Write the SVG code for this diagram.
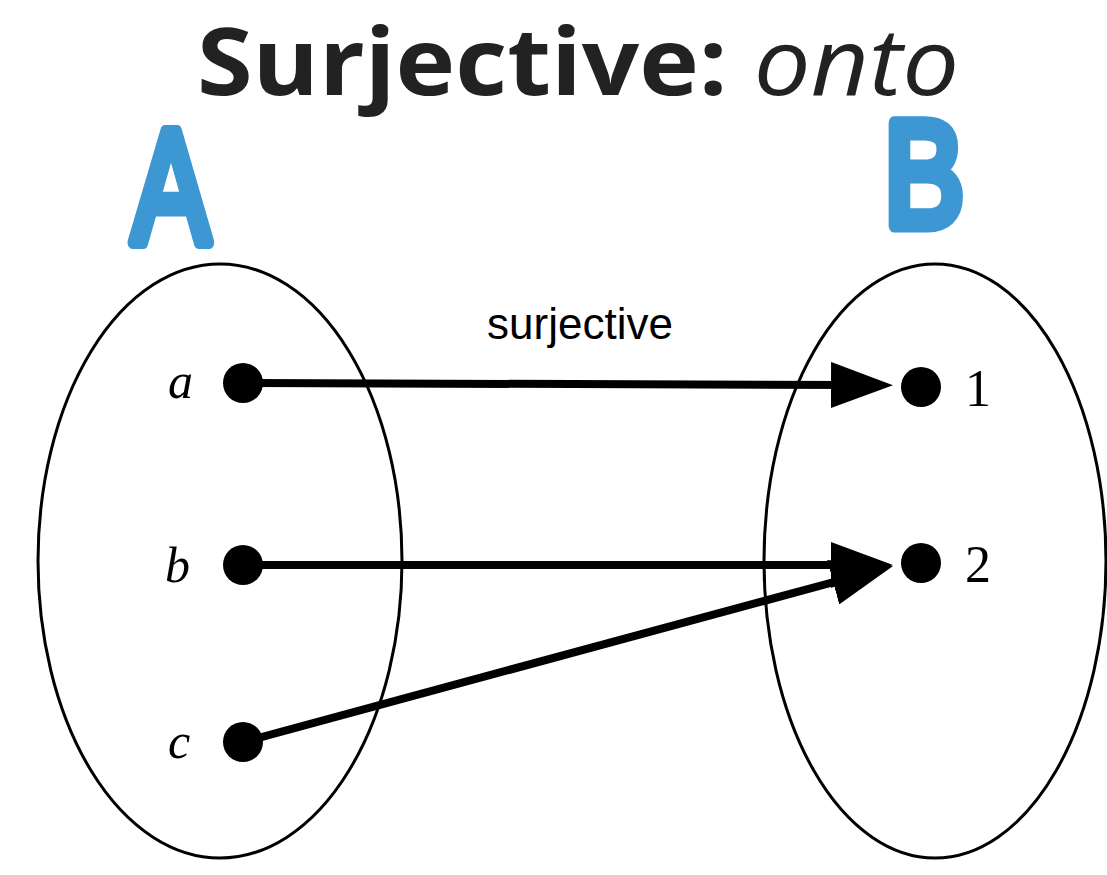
<svg xmlns="http://www.w3.org/2000/svg" width="1107" height="875" viewBox="0 0 1107 875">
<style>
.title{font-family:"Open Sans","Noto Sans",sans-serif;font-size:94px;fill:#222}
.set{font-family:"Liberation Sans",sans-serif;fill:#3d97d3;stroke:#3d97d3;stroke-width:13;stroke-linejoin:round;stroke-linecap:round}
.var{font-family:"Liberation Serif",serif;font-style:italic;font-size:50px;fill:#000}
.num{font-family:"Liberation Serif",serif;font-size:52px;fill:#000}
.lbl{font-family:"Liberation Sans",sans-serif;font-size:44px;fill:#000}
.ell{fill:none;stroke:#000;stroke-width:3}
.edge{stroke:#000;stroke-width:8;fill:none}
</style>
<defs>
<marker id="ah" markerUnits="userSpaceOnUse" markerWidth="62" markerHeight="46" refX="20" refY="23" orient="auto">
<path d="M0,0 L62,23 L0,46 Z" fill="#000"/>
</marker>
</defs>
<rect width="1107" height="875" fill="#fff"/>
<text class="title" x="578" y="95" text-anchor="middle" textLength="762" lengthAdjust="spacingAndGlyphs"><tspan font-weight="bold">Surjective:</tspan> <tspan font-style="italic">onto</tspan></text>
<g id="setA"><ellipse class="ell" cx="220" cy="561" rx="182" ry="297"/><text class="set" font-size="162" transform="translate(132,243) scale(0.72,1)">A</text></g>
<g id="setB"><ellipse class="ell" cx="935" cy="561" rx="171" ry="297"/><text class="set" font-size="150" transform="translate(884,226) scale(0.8,1)">B</text></g>
<g id="connectors">
<line class="edge" x1="243" y1="383" x2="851" y2="385" marker-end="url(#ah)"/>
<line class="edge" x1="243" y1="565" x2="851" y2="565" marker-end="url(#ah)"/>
<line class="edge" x1="243" y1="742" x2="852.5" y2="577" marker-end="url(#ah)"/>
<text class="lbl" x="580" y="339" text-anchor="middle">surjective</text>
</g>
<g id="a"><circle cx="243" cy="383" r="20"/><text class="var" x="168" y="398">a</text></g>
<g id="b"><circle cx="243" cy="565" r="20"/><text class="var" x="165" y="582">b</text></g>
<g id="c"><circle cx="243" cy="742" r="20"/><text class="var" x="168" y="758">c</text></g>
<g id="n1"><circle cx="921" cy="387" r="20"/><text class="num" x="965" y="406">1</text></g>
<g id="n2"><circle cx="921" cy="563" r="20"/><text class="num" x="965" y="582">2</text></g>
</svg>
